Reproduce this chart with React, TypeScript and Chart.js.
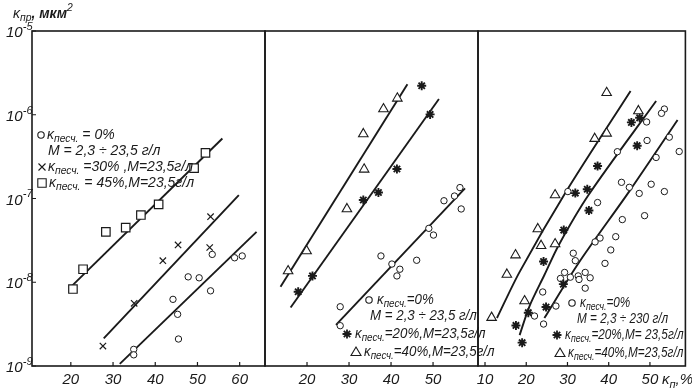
import React, { useEffect, useRef } from 'react';
import { Chart, registerables } from 'chart.js';
Chart.register(...registerables);

const W = 692;
const H = 391;
const PLOT_TOP = 31;
const FAMILY = '"Liberation Sans", Arial, sans-serif';
const INK = '#1a1a1a';

// ---- shared y axis (log) ----
const Y_MIN = 1e-9;
const Y_MAX = 1e-5;
const Y_DECADES = [1e-9, 1e-8, 1e-7, 1e-6, 1e-5];
const Y_EXPONENTS = ['-9', '-8', '-7', '-6', '-5'];

// ---- panel 1 ----
const p1Ticks = [20, 30, 40, 50, 60];
const p1CircleX = [34.9, 34.9, 44.2, 45.3, 45.5, 47.8, 50.4, 53.1, 53.5, 58.8, 60.6];
const p1CircleY = [1.58e-9, 1.36e-9, 6.25e-9, 4.14e-9, 2.1e-9, 1.16e-8, 1.13e-8, 7.9e-9, 2.15e-8, 1.96e-8, 2.06e-8];
const p1CircleLineX = [31.6, 64.0];
const p1CircleLineY = [1.06e-9, 4.0e-8];
const p1CrossX = [27.6, 35.0, 41.8, 45.4, 52.9, 53.1];
const p1CrossY = [1.73e-9, 5.6e-9, 1.81e-8, 2.79e-8, 2.6e-8, 6.07e-8];
const p1CrossLineX = [27.8, 59.8];
const p1CrossLineY = [2.14e-9, 1.1e-7];
const p1SquareX = [20.5, 22.9, 28.3, 33.0, 36.6, 40.8, 49.2, 51.9];
const p1SquareY = [8.3e-9, 1.43e-8, 4.0e-8, 4.5e-8, 6.35e-8, 8.5e-8, 2.3e-7, 3.5e-7];
const p1SquareLineX = [20.2, 55.9];
const p1SquareLineY = [9.0e-9, 5.2e-7];

// ---- panel 2 ----
const p2Ticks = [20, 30, 40, 50];
const p2CircleX = [27.9, 27.9, 37.6, 40.2, 42.1, 41.4, 46.1, 49.0, 50.1, 52.6, 55.1, 56.7, 56.4];
const p2CircleY = [3.03e-9, 5.1e-9, 2.06e-8, 1.65e-8, 1.43e-8, 1.19e-8, 1.83e-8, 4.4e-8, 3.66e-8, 9.4e-8, 1.07e-7, 7.5e-8, 1.35e-7];
const p2CircleLineX = [26.9, 57.6];
const p2CircleLineY = [3.09e-9, 1.32e-7];
const p2StarX = [17.9, 21.3, 33.4, 37.0, 41.4, 49.3, 47.3];
const p2StarY = [7.7e-9, 1.19e-8, 9.6e-8, 1.18e-7, 2.25e-7, 1.01e-6, 2.22e-6];
const p2StarLineX = [16.1, 51.4];
const p2StarLineY = [5.0e-9, 1.54e-6];
const p2TriX = [15.5, 19.9, 29.5, 33.6, 33.4, 38.2, 41.5];
const p2TriY = [1.36e-8, 2.36e-8, 7.5e-8, 2.23e-7, 5.9e-7, 1.17e-6, 1.57e-6];
const p2TriLineX = [13.7, 43.9];
const p2TriLineY = [8.85e-9, 2.31e-6];

// ---- panel 3 ----
const p3Ticks = [10, 20, 30, 40, 50];
const p3CircleX = [53.5, 52.8, 49.2, 54.7, 49.3, 42.1, 57.1, 51.5, 43.1, 45.0, 47.4, 50.3, 53.5, 37.3, 43.3, 48.7, 41.7, 37.9, 36.7, 40.5, 39.1, 31.4, 31.9, 29.3, 28.3, 30.7, 32.6, 32.8, 34.3, 35.5, 34.3, 24.0, 27.2, 22.0, 24.2, 30.1];
const p3CircleY = [1.17e-6, 1.04e-6, 8.2e-7, 5.4e-7, 4.93e-7, 3.62e-7, 3.64e-7, 3.09e-7, 1.56e-7, 1.36e-7, 1.15e-7, 1.48e-7, 1.21e-7, 8.95e-8, 5.6e-8, 6.24e-8, 3.5e-8, 3.37e-8, 3.03e-8, 2.43e-8, 1.68e-8, 2.22e-8, 1.81e-8, 1.31e-8, 1.11e-8, 1.15e-8, 1.19e-8, 1.08e-8, 1.31e-8, 1.13e-8, 8.5e-9, 7.65e-9, 5.2e-9, 3.95e-9, 3.17e-9, 1.21e-7];
const p3CircleLineX = [24.4, 32.7, 45.2, 56.7];
const p3CircleLineY = [3.74e-9, 1.7e-8, 1.26e-7, 8.65e-7];
const p3StarX = [47.5, 45.5, 46.9, 37.3, 34.8, 31.9, 35.2, 29.1, 24.2, 29.0, 24.8, 20.5, 17.5, 19.0];
const p3StarY = [9.2e-7, 8.1e-7, 4.27e-7, 2.44e-7, 1.29e-7, 1.16e-7, 7.2e-8, 4.2e-8, 1.77e-8, 9.5e-9, 5.06e-9, 4.33e-9, 3.05e-9, 1.9e-9];
const p3StarLineX = [18.4, 20.8, 24.4, 27.9, 35.1, 51.5];
const p3StarLineY = [2.34e-9, 5.2e-9, 1.22e-8, 2.79e-8, 1.1e-7, 1.46e-6];
const p3TriX = [39.5, 47.2, 36.6, 39.5, 27.0, 22.8, 23.6, 27.0, 17.4, 15.3, 19.6, 11.6];
const p3TriY = [1.83e-6, 1.11e-6, 5.18e-7, 6.0e-7, 1.1e-7, 4.33e-8, 2.73e-8, 2.86e-8, 2.11e-8, 1.24e-8, 5.97e-9, 3.78e-9];
const p3TriLineX = [12.9, 18.4, 29.9, 45.3];
const p3TriLineY = [3.74e-9, 1.33e-8, 1.26e-7, 1.92e-6];

// ---- texts ----
type Seg = { t: string; k?: 'sub' | 'sup' | 'b' };
const K: Seg = { t: 'κ' };
const SAND: Seg = { t: 'песч.', k: 'sub' };
const n = (t: string): Seg => ({ t });

type LegendLine = { m?: string; mx?: number; my?: number; x: number; y: number; segs: Seg[] };

const LEG1: LegendLine[] = [
  { m: 'circle', mx: 41, my: 135, x: 47, y: 135, segs: [K, SAND, n(' = 0%')] },
  { x: 48, y: 151, segs: [n('M = 2,3 ÷ 23,5 г/л')] },
  { m: 'cross', mx: 42, my: 167, x: 48, y: 167, segs: [K, SAND, n(' =30% ,M=23,5г/л')] },
  { m: 'rect', mx: 42, my: 183, x: 49, y: 183, segs: [K, SAND, n(' = 45%,M=23,5г/л')] },
];
const LEG2: LegendLine[] = [
  { m: 'circle', mx: 369, my: 300, x: 377, y: 300, segs: [K, SAND, n('=0%')] },
  { x: 370, y: 316, segs: [n('M = 2,3 ÷ 23,5 г/л')] },
  { m: 'star', mx: 347, my: 334, x: 355, y: 334, segs: [K, SAND, n('=20%,M=23,5г/л')] },
  { m: 'triangle', mx: 356, my: 352, x: 364, y: 352, segs: [K, SAND, n('=40%,M=23,5г/л')] },
];
const LEG3: LegendLine[] = [
  { m: 'circle', mx: 572, my: 303, x: 580, y: 303, segs: [K, SAND, n('=0%')] },
  { x: 577, y: 319, segs: [n('M = 2,3 ÷ 230 г/л')] },
  { m: 'star', mx: 557, my: 335, x: 565, y: 335, segs: [K, SAND, n('=20%,M= 23,5г/л')] },
  { m: 'triangle', mx: 560, my: 353, x: 568, y: 353, segs: [K, SAND, n('=40%,M=23,5г/л')] },
];
const TITLE: Seg[] = [{ t: 'κ' }, { t: 'пр', k: 'sub' }, { t: ', мкм', k: 'b' }, { t: '2', k: 'sup' }];
const UNIT: Seg[] = [{ t: 'κ' }, { t: 'п', k: 'sub' }, { t: ',%' }];

function drawRich(ctx: CanvasRenderingContext2D, x: number, y: number, segs: Seg[], size: number, sx = 1) {
  ctx.save();
  ctx.translate(x, y);
  ctx.scale(sx, 1);
  let cx = 0;
  ctx.textAlign = 'left';
  ctx.textBaseline = 'middle';
  ctx.fillStyle = INK;
  for (const s of segs) {
    let fs = size;
    let dy = 0;
    let weight = 'normal';
    if (s.k === 'sub') { fs = size * 0.74; dy = size * 0.32; }
    if (s.k === 'sup') { fs = size * 0.74; dy = -size * 0.42; }
    if (s.k === 'b') weight = 'bold';
    ctx.font = `italic ${weight} ${fs}px ${FAMILY}`;
    ctx.fillText(s.t, cx, dy);
    cx += ctx.measureText(s.t).width;
  }
  ctx.restore();
}

function drawMarker(ctx: CanvasRenderingContext2D, kind: string, x: number, y: number) {
  ctx.save();
  ctx.strokeStyle = INK;
  ctx.fillStyle = '#fff';
  ctx.lineWidth = 1.1;
  ctx.beginPath();
  if (kind === 'circle') {
    ctx.arc(x, y, 3.2, 0, Math.PI * 2);
    ctx.fill();
    ctx.stroke();
  } else if (kind === 'rect') {
    ctx.rect(x - 4.2, y - 4.2, 8.4, 8.4);
    ctx.fill();
    ctx.stroke();
  } else if (kind === 'cross') {
    ctx.moveTo(x - 3.5, y - 3.5); ctx.lineTo(x + 3.5, y + 3.5);
    ctx.moveTo(x + 3.5, y - 3.5); ctx.lineTo(x - 3.5, y + 3.5);
    ctx.stroke();
  } else if (kind === 'triangle') {
    ctx.moveTo(x, y - 5); ctx.lineTo(x + 5, y + 3.5); ctx.lineTo(x - 5, y + 3.5); ctx.closePath();
    ctx.fill();
    ctx.stroke();
  } else if (kind === 'star') {
    ctx.lineWidth = 1.8;
    const r = 4.5;
    for (let i = 0; i < 4; i++) {
      const a = (i * Math.PI) / 4;
      ctx.moveTo(x - r * Math.cos(a), y - r * Math.sin(a));
      ctx.lineTo(x + r * Math.cos(a), y + r * Math.sin(a));
    }
    ctx.stroke();
  }
  ctx.restore();
}

const pts = (xs: number[], ys: number[]) => xs.map((x, i) => ({ x, y: ys[i] }));

const POINT_STYLES: Record<string, any> = {
  circle: { pointStyle: 'circle', pointRadius: 3.2, pointBorderWidth: 1, pointBackgroundColor: '#fff' },
  cross: { pointStyle: 'crossRot', pointRadius: 4.5, pointBorderWidth: 1.2, pointBackgroundColor: '#fff' },
  rect: { pointStyle: 'rect', pointRadius: 6, pointBorderWidth: 1.2, pointBackgroundColor: '#fff' },
  star: { pointStyle: 'star', pointRadius: 4.5, pointBorderWidth: 1.9, pointBackgroundColor: '#fff' },
  triangle: { pointStyle: 'triangle', pointRadius: 5.5, pointBorderWidth: 1.1, pointBackgroundColor: '#fff' },
};

function scatterSet(kind: string, xs: number[], ys: number[]) {
  return {
    data: pts(xs, ys),
    showLine: false,
    pointBorderColor: INK,
    ...POINT_STYLES[kind],
    order: 0,
  };
}
function lineSet(xs: number[], ys: number[], tension = 0) {
  return {
    data: pts(xs, ys),
    showLine: true,
    borderColor: INK,
    borderWidth: 1.9,
    pointRadius: 0,
    tension,
    order: 1,
  };
}

type Panel = {
  left: number;
  right: number;
  xMin: number;
  xMax: number;
  ticks: number[];
  datasets: any[];
  legend: LegendLine[];
  legendSize: number;
  legendScaleX: number;
  yLabels?: boolean;
  title?: boolean;
  unit?: boolean;
};

function decorPlugin(p: Panel) {
  return {
    id: 'decor',
    afterDraw(chart: any) {
      const ctx: CanvasRenderingContext2D = chart.ctx;
      const a = chart.chartArea;
      ctx.save();
      ctx.strokeStyle = INK;
      ctx.lineWidth = 1.6;
      ctx.strokeRect(a.left, a.top, a.right - a.left, a.bottom - a.top);
      ctx.lineWidth = 1.2;
      ctx.beginPath();
      for (const t of p.ticks) {
        const px = chart.scales.x.getPixelForValue(t);
        ctx.moveTo(px, a.bottom);
        ctx.lineTo(px, a.bottom - 4);
      }
      ctx.stroke();
      if (p.yLabels) {
        ctx.beginPath();
        Y_DECADES.forEach((d) => {
          const py = chart.scales.y.getPixelForValue(d);
          ctx.moveTo(a.left, py);
          ctx.lineTo(a.left + 4, py);
        });
        ctx.stroke();
        Y_DECADES.forEach((d, i) => {
          const py = chart.scales.y.getPixelForValue(d);
          drawRich(ctx, 6, py + 2, [{ t: '10' }, { t: Y_EXPONENTS[i], k: 'sup' }], 15);
        });
      }
      for (const l of p.legend) {
        if (l.m) drawMarker(ctx, l.m, l.mx!, l.my!);
        drawRich(ctx, l.x, l.y, l.segs, p.legendSize, p.legendScaleX);
      }
      if (p.title) drawRich(ctx, 13, 14, TITLE, 14);
      if (p.unit) drawRich(ctx, 662, 380, UNIT, 15);
      ctx.restore();
    },
  };
}

function panelConfig(p: Panel): any {
  return {
    type: 'scatter',
    data: { datasets: p.datasets },
    options: {
      animation: false,
      responsive: false,
      devicePixelRatio: 1,
      events: [],
      layout: { padding: { left: p.left, right: W - p.right, top: PLOT_TOP, bottom: 0 } },
      plugins: { legend: { display: false }, tooltip: { enabled: false } },
      scales: {
        x: {
          type: 'linear',
          min: p.xMin,
          max: p.xMax,
          afterBuildTicks: (s: any) => {
            s.ticks = p.ticks.map((v) => ({ value: v }));
          },
          afterFit: (s: any) => {
            s.height = 25;
          },
          grid: { display: false, drawTicks: false },
          border: { display: false },
          ticks: {
            autoSkip: false,
            maxRotation: 0,
            padding: 5,
            color: INK,
            font: { family: FAMILY, size: 15, style: 'italic' },
            callback: (v: any) => String(v),
          },
        },
        y: { type: 'logarithmic', display: false, min: Y_MIN, max: Y_MAX },
      },
    },
    plugins: [decorPlugin(p)],
  };
}

const PANELS: Panel[] = [
  {
    left: 32, right: 265, xMin: 10.8, xMax: 66, ticks: p1Ticks, legend: LEG1, legendSize: 14, legendScaleX: 1, yLabels: true, title: true,
    datasets: [
      lineSet(p1SquareLineX, p1SquareLineY),
      lineSet(p1CrossLineX, p1CrossLineY),
      lineSet(p1CircleLineX, p1CircleLineY),
      scatterSet('rect', p1SquareX, p1SquareY),
      scatterSet('cross', p1CrossX, p1CrossY),
      scatterSet('circle', p1CircleX, p1CircleY),
    ],
  },
  {
    left: 265, right: 478, xMin: 10, xMax: 60.7, ticks: p2Ticks, legend: LEG2, legendSize: 14, legendScaleX: 0.95,
    datasets: [
      lineSet(p2TriLineX, p2TriLineY),
      lineSet(p2StarLineX, p2StarLineY),
      lineSet(p2CircleLineX, p2CircleLineY),
      scatterSet('triangle', p2TriX, p2TriY),
      scatterSet('star', p2StarX, p2StarY),
      scatterSet('circle', p2CircleX, p2CircleY),
    ],
  },
  {
    left: 478, right: 687, xMin: 8.3, xMax: 58.6, ticks: p3Ticks, legend: LEG3, legendSize: 14, legendScaleX: 0.84, unit: true,
    datasets: [
      lineSet(p3TriLineX, p3TriLineY, 0.3),
      lineSet(p3StarLineX, p3StarLineY, 0.3),
      lineSet(p3CircleLineX, p3CircleLineY, 0.3),
      scatterSet('triangle', p3TriX, p3TriY),
      scatterSet('star', p3StarX, p3StarY),
      scatterSet('circle', p3CircleX, p3CircleY),
    ],
  },
];

export default function App() {
  const r1 = useRef<HTMLCanvasElement>(null);
  const r2 = useRef<HTMLCanvasElement>(null);
  const r3 = useRef<HTMLCanvasElement>(null);
  useEffect(() => {
    const refs = [r1, r2, r3];
    const charts = PANELS.map((p, i) => new Chart(refs[i].current as HTMLCanvasElement, panelConfig(p)));
    return () => charts.forEach((c) => c.destroy());
  }, []);
  const cs: React.CSSProperties = { position: 'absolute', left: 0, top: 0, width: W, height: H };
  return (
    <div style={{ position: 'absolute', left: 0, top: 0, width: W, height: H, background: '#fff', overflow: 'hidden' }}>
      <canvas ref={r1} width={W} height={H} style={cs} />
      <canvas ref={r2} width={W} height={H} style={cs} />
      <canvas ref={r3} width={W} height={H} style={cs} />
    </div>
  );
}
